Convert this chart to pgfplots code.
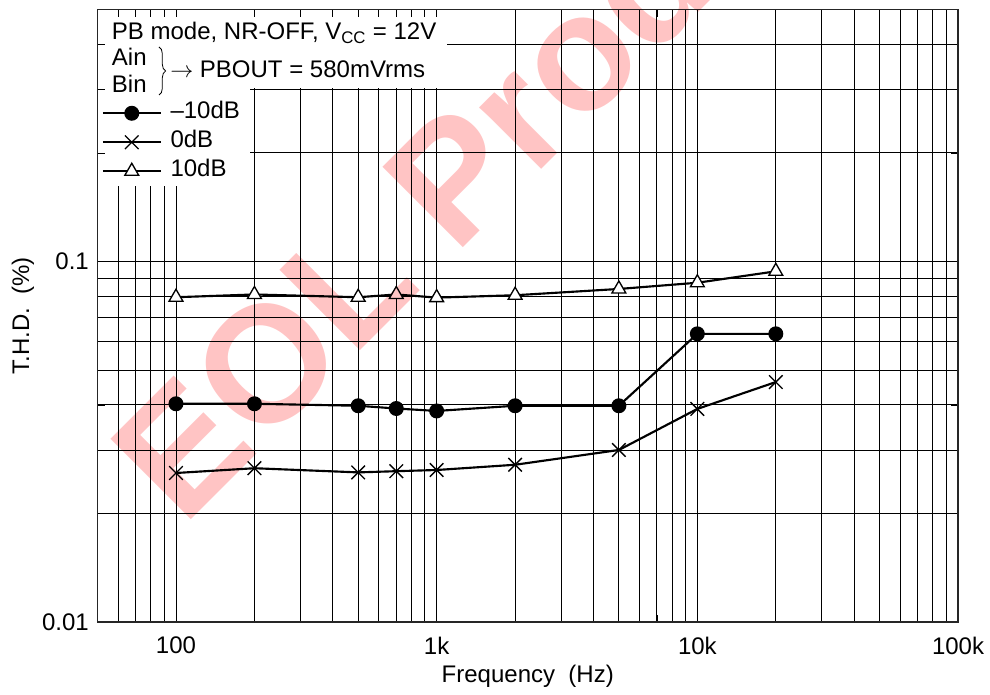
\documentclass[border=0pt]{standalone}
\usepackage{pgfplots}
\pgfplotsset{compat=1.18}
\usepackage{fontspec}
\setmainfont{Liberation Sans}
\usetikzlibrary{decorations.pathreplacing}
\definecolor{wm}{RGB}{255,196,196}
\newcommand{\fs}{\fontsize{18}{21.5}\selectfont}

\begin{document}
\begin{tikzpicture}
\begin{scope}[x=0.75pt, y=-0.75pt, shift={(-97.5,-622)}]
  \path (0,0) rectangle (990,695);
\end{scope}

\begin{axis}[
  scale only axis, width=645.4pt, height=459.4pt,
  xmode=log, ymode=log, xmin=50, xmax=100000, ymin=0.01, ymax=0.5,
  xtick={100,1000,10000,100000},
  minor xtick={60,70,80,90,200,300,400,500,600,700,800,900,2000,3000,4000,5000,6000,7000,8000,9000,20000,30000,40000,50000,60000,70000,80000,90000},
  ytick={0.01,0.1},
  minor ytick={0.02,0.03,0.04,0.05,0.06,0.07,0.08,0.09,0.2,0.3,0.4},
  tick align=inside, tick pos=both,
  major tick length=5.5pt, minor tick length=5.5pt,
  tick style={black, line width=0.65pt},
  axis line style={line width=1.1pt, black!85},
  grid=both,
  major grid style={black, line width=0.7pt},
  minor grid style={black, line width=0.7pt},
  xticklabels={100,1k,10k,100k},
  yticklabels={0.01,0.1},
  ticklabel style={font=\fs},
  xticklabel style={yshift=-7.5pt},
  yticklabel style={xshift=-3pt},
  xlabel={Frequency\ \ (Hz)},
  ylabel={T.H.D.\ \ (\%)},
  every axis x label/.style={at={(axis description cs:0.5,-0.0882)}, anchor=center, font=\fs},
  every axis y label/.style={at={(axis description cs:-0.0866,0.5)}, rotate=90, anchor=center, font=\fs},
]
\addplot[black, line width=1.6pt, mark=*, mark size=4.8pt, mark options={fill=black}]
  coordinates {(100,0.0403)(200,0.0403)(500,0.0398)(700,0.0391)(1000,0.0385)(2000,0.0398)(5000,0.0398)(10000,0.063)(20000,0.063)};
\addplot[black, line width=1.6pt, mark=x, mark size=7.2pt, mark options={line width=1pt}]
  coordinates {(100,0.0259)(200,0.0267)(500,0.0260)(700,0.0262)(1000,0.0264)(2000,0.0273)(5000,0.0300)(10000,0.0390)(20000,0.0463)};
\addplot[black, line width=1.6pt, mark=triangle*, mark size=6pt, mark options={fill=white, line width=1pt}]
  coordinates {(100,0.0796)(200,0.0810)(500,0.0796)(700,0.0810)(1000,0.0794)(2000,0.0806)(5000,0.0839)(10000,0.0873)(20000,0.0939)};
\end{axis}

\begin{scope}[x=0.75pt, y=-0.75pt, shift={(-97.5,-622)}]
  \fill[white] (98,10) rectangle (447,88);
  \fill[white] (98,87) rectangle (250,186);
  \node[anchor=base west, inner sep=0pt, font=\fs] at (111.7,39.3) {PB mode, NR-OFF, V\textsubscript{CC} = 12V};
  \node[anchor=base west, inner sep=0pt, font=\fs] at (111.7,65.7) {Ain};
  \node[anchor=base west, inner sep=0pt, font=\fs] at (111.7,92.3) {Bin};
  \draw[line width=0.6pt, decorate, decoration={brace, amplitude=5pt}] (159,47) -- (159,95);
  \node[anchor=base west, inner sep=0pt, font=\fs] at (170,77.3) {$\rightarrow$\hspace{5pt}PBOUT = 580mVrms};
\end{scope}

\begin{axis}[
  scale only axis, width=645.4pt, height=459.4pt,
  xmode=log, ymode=log, xmin=50, xmax=100000, ymin=0.01, ymax=0.5,
  xtick={100,1000,10000,100000},
  minor xtick={60,70,80,90,200,300,400,500,600,700,800,900,2000,3000,4000,5000,6000,7000,8000,9000,20000,30000,40000,50000,60000,70000,80000,90000},
  ytick={0.01,0.1},
  minor ytick={0.02,0.03,0.04,0.05,0.06,0.07,0.08,0.09,0.2,0.3,0.4},
  tick align=inside, tick pos=both,
  major tick length=5.5pt, minor tick length=5.5pt,
  tick style={black, line width=0.65pt},
  axis line style={line width=1.1pt, black!85},
  xticklabels={,,,}, yticklabels={,},
  legend cell align=left,
  legend image code/.code={\draw[mark repeat=2,mark phase=2,#1] plot coordinates {(0pt,0pt) (21.75pt,0pt) (43.5pt,0pt)};},
  legend style={at={(rel axis cs:0.00488,0.8485)}, anchor=north west, draw=none, fill=none,
    inner sep=0pt, outer sep=0pt, row sep=5.25pt, font=\fs,
    nodes={inner sep=0pt, text height=12.5pt, text depth=4pt},
    /tikz/every odd column/.append style={column sep=6.5pt}},
]
\addlegendimage{black, line width=1.6pt, mark=*, mark size=4.8pt, mark options={fill=black}}
\addlegendimage{black, line width=1.6pt, mark=x, mark size=7.2pt, mark options={line width=1pt}}
\addlegendimage{black, line width=1.6pt, mark=triangle*, mark size=6pt, mark options={fill=white, line width=1pt}}
\legend{{\textendash}10dB, 0dB, 10dB}
\end{axis}

\begin{scope}[overlay, x=0.75pt, y=-0.75pt, shift={(-97.5,-622)}]
  \clip (0,0) rectangle (990,695);
  \begin{scope}[blend mode=multiply]
    \node[anchor=base west, rotate=45, inner sep=0pt, text=wm, font=\fontsize{124}{130}\selectfont\bfseries] at (183,528) {EOL Products};
  \end{scope}
\end{scope}
\end{tikzpicture}
\end{document}
